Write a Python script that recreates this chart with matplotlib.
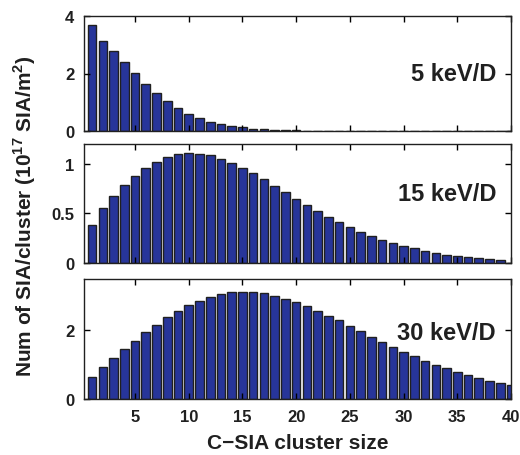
import numpy as np
import matplotlib
matplotlib.use("Agg")
import matplotlib.pyplot as plt

# cluster sizes and number of SIA per cluster (10^17 SIA/m^2)
size = np.arange(1, 41)

sia_5kev = [3.70, 3.14, 2.77, 2.40, 2.02, 1.65, 1.32, 1.03, 0.79, 0.59,
            0.45, 0.32, 0.23, 0.17, 0.13, 0.08, 0.06, 0.04, 0.03, 0.02,
            0.015, 0.01, 0.008, 0.006, 0.004, 0.003, 0.002, 0.0, 0.0, 0.0,
            0.0, 0.0, 0.0, 0.0, 0.0, 0.0, 0.0, 0.0, 0.0, 0.0]

sia_15kev = [0.383, 0.557, 0.68, 0.787, 0.88, 0.957, 1.023, 1.067, 1.097, 1.107,
             1.103, 1.087, 1.05, 1.01, 0.96, 0.903, 0.843, 0.777, 0.713, 0.647,
             0.583, 0.523, 0.463, 0.41, 0.36, 0.31, 0.27, 0.233, 0.203, 0.173,
             0.147, 0.12, 0.10, 0.083, 0.067, 0.057, 0.047, 0.04, 0.033, 0.0]

sia_30kev = [0.64, 0.946, 1.21, 1.46, 1.70, 1.94, 2.17, 2.38, 2.56, 2.73,
             2.87, 2.98, 3.05, 3.11, 3.12, 3.11, 3.08, 3.01, 2.92, 2.82,
             2.70, 2.57, 2.43, 2.29, 2.13, 1.97, 1.82, 1.67, 1.52, 1.38,
             1.24, 1.11, 1.00, 0.89, 0.79, 0.69, 0.60, 0.53, 0.46, 0.40]

labels = ["5 keV/D", "15 keV/D", "30 keV/D"]
ylims = [4, 1.2, 3.5]
yticks = [[0, 2, 4], [0, 0.5, 1], [0, 2]]
yticklabels = [["0", "2", "4"], ["0", "0.5", "1"], ["0", "2"]]
text_y = [0.50, 0.58, 0.55]

plt.rcParams["font.family"] = ["Liberation Sans", "DejaVu Sans"]
plt.rcParams["font.weight"] = "bold"
plt.rcParams["mathtext.fontset"] = "custom"
plt.rcParams["mathtext.bf"] = "Liberation Sans:bold"

fig = plt.figure(figsize=(5.2, 4.56), dpi=100)
W, H = 520, 456
# panel extents in pixels: (top, bottom)
panels = [(17, 132), (145, 264), (280, 400)]
left, right = 84, 511

for i, (data, (top, bot)) in enumerate(zip([sia_5kev, sia_15kev, sia_30kev], panels)):
    ax = fig.add_axes([left / W, 1 - bot / H, (right - left) / W, (bot - top) / H])
    ax.bar(size, data, width=0.8, color="#27359a", edgecolor="#202020", linewidth=1.0)
    ax.set_xlim(0.25, 40)
    ax.set_ylim(0, ylims[i])
    ax.set_xticks(np.arange(5, 41, 5))
    ax.set_yticks(yticks[i])
    ax.set_yticklabels(yticklabels[i])
    ax.tick_params(direction="in", top=True, right=True, length=4, width=1,
                   labelsize=12, pad=7, labelcolor="#202020")
    for s in ax.spines.values():
        s.set_linewidth(1.0)
        s.set_color("#202020")
    if i < 2:
        ax.set_xticklabels([])
    else:
        ax.set_xlabel("C\u2212SIA cluster size", fontsize=15, fontweight="bold",
                      labelpad=7, color="#202020")
    ax.text(0.965, text_y[i], labels[i], transform=ax.transAxes, ha="right", va="center",
            fontsize=17, fontweight="bold", color="#202020")

fig.text(25 / W, 1 - 216 / H,
         "Num of SIA/cluster (10$^{\\mathbf{17}}$ SIA/m$^{\\mathbf{2}}$)",
         rotation=90, ha="center", va="center", fontsize=15, fontweight="bold",
         color="#202020")

fig.savefig("out.png", dpi=100)
